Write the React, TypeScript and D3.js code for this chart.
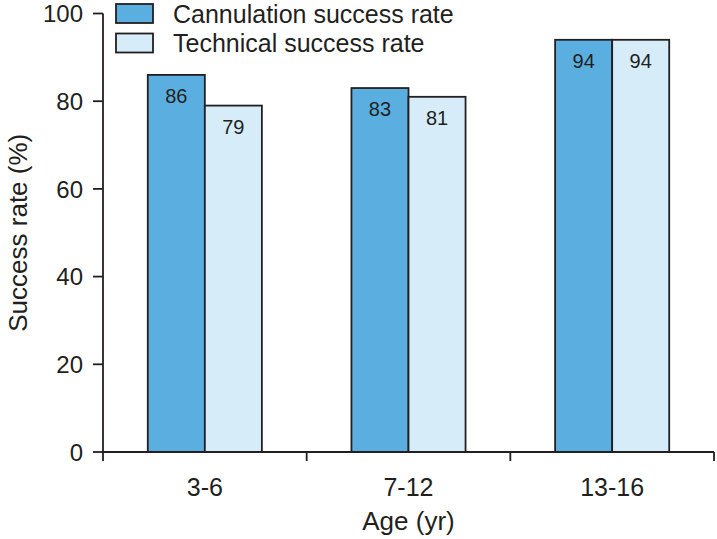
import React from "react";
import * as d3 from "d3";

const categories = ["3-6", "7-12", "13-16"];
const seriesNames = ["Cannulation success rate", "Technical success rate"];
const cannulation = [86, 83, 94];
const technical = [79, 81, 94];
const yTicks = [0, 20, 40, 60, 80, 100];

const W = 717;
const H = 539;
const margin = { left: 103, right: 3, top: 13.5, bottom: 87 };
const colors = ["#5aafe0", "#d6ecf9"];
const stroke = "#231f20";
const font = "'Liberation Sans', Arial, Helvetica, sans-serif";

export default function App() {
  const x0 = d3
    .scaleBand<string>()
    .domain(categories)
    .range([margin.left, W - margin.right]);
  const x1 = d3
    .scaleBand<string>()
    .domain(seriesNames)
    .range([0, x0.bandwidth()])
    .paddingOuter(0.785)
    .paddingInner(0);
  const y = d3
    .scaleLinear()
    .domain([0, 100])
    .range([H - margin.bottom, margin.top]);

  const series = [cannulation, technical];
  const y0 = y(0);
  const boundaries = [
    ...categories.map((c) => x0(c)!),
    x0(categories[categories.length - 1])! + x0.bandwidth(),
  ];
  const sw = 1.8;

  return (
    <svg
      width={W}
      height={H}
      style={{ position: "absolute", left: 0, top: 0, display: "block", background: "#fff" }}
      fontFamily={font}
    >
      {/* bars */}
      {categories.map((c, ci) =>
        seriesNames.map((s, si) => {
          const v = series[si][ci];
          const bx = x0(c)! + x1(s)!;
          const by = y(v);
          return (
            <g key={c + s}>
              <rect
                x={bx}
                y={by}
                width={x1.bandwidth()}
                height={y0 - by}
                fill={colors[si]}
                stroke={stroke}
                strokeWidth={sw}
              />
              <text
                x={bx + x1.bandwidth() / 2}
                y={by + 28}
                textAnchor="middle"
                fontSize={20}
                fill={stroke}
              >
                {v}
              </text>
            </g>
          );
        })
      )}

      {/* y axis */}
      <line x1={margin.left} x2={margin.left} y1={y(100)} y2={y0} stroke={stroke} strokeWidth={sw} />
      {yTicks.map((t) => (
        <g key={t}>
          <line x1={margin.left - 10} x2={margin.left} y1={y(t)} y2={y(t)} stroke={stroke} strokeWidth={sw} />
          <text x={margin.left - 20} y={y(t)} dy="0.36em" textAnchor="end" fontSize={24} fill={stroke}>
            {t}
          </text>
        </g>
      ))}
      <text
        transform={`translate(${27},${(y(0) + y(100)) / 2}) rotate(-90)`}
        textAnchor="middle"
        fontSize={26}
        fill={stroke}
      >
        Success rate (%)
      </text>

      {/* x axis */}
      <line x1={margin.left} x2={W - margin.right} y1={y0} y2={y0} stroke={stroke} strokeWidth={sw} />
      {boundaries.map((b, i) => (
        <line key={i} x1={b} x2={b} y1={y0} y2={y0 + 9} stroke={stroke} strokeWidth={sw} />
      ))}
      {categories.map((c) => (
        <text
          key={c}
          x={x0(c)! + x0.bandwidth() / 2}
          y={y0 + 44}
          textAnchor="middle"
          fontSize={25}
          fill={stroke}
        >
          {c}
        </text>
      ))}
      <text
        x={(margin.left + W - margin.right) / 2}
        y={y0 + 78}
        textAnchor="middle"
        fontSize={26}
        fill={stroke}
      >
        Age (yr)
      </text>

      {/* legend */}
      {seriesNames.map((s, i) => (
        <g key={s} transform={`translate(116,${4 + i * 29.5})`}>
          <rect x={0} y={0} width={37} height={19} fill={colors[i]} stroke={stroke} strokeWidth={sw} />
          <text x={57} y={9.5} dy="0.36em" fontSize={25} fill={stroke}>
            {s}
          </text>
        </g>
      ))}
    </svg>
  );
}
